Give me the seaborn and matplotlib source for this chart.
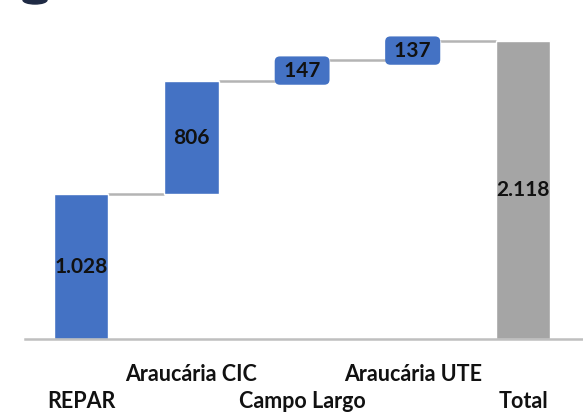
import matplotlib
matplotlib.use('Agg')
import matplotlib.pyplot as plt
import matplotlib.transforms as mtransforms
from matplotlib.patches import Ellipse
import seaborn as sns
import numpy as np
import pandas as pd

# dados do gráfico (waterfall)
categorias = ['REPAR', 'Araucária CIC', 'Campo Largo', 'Araucária UTE', 'Total']
valores = [1028, 806, 147, 137, 2118]
rotulos = ['1.028', '806', '147', '137', '2.118']

azul = '#4472C4'
cinza = '#A5A5A5'
linha = '#B4B4B4'

# base de cada barra: acumulado anterior, total parte do zero
base = list(np.concatenate([[0], np.cumsum(valores[:-2])])) + [0]
topo = [b + v for b, v in zip(base, valores)]

df = pd.DataFrame({'cat': categorias, 'valor': valores, 'base': base})

sns.set_style('white')
plt.rcParams['font.family'] = ['Lato', 'DejaVu Sans']

fig = plt.figure(figsize=(5.83, 4.12), dpi=100)
ax = fig.add_axes([25 / 583, 73 / 412, 558 / 583, 339 / 412])

w = 0.49
sns.barplot(data=df, x='cat', y='valor', color=azul, bottom=df['base'].values,
            width=w, ax=ax, saturation=1, zorder=2)
ax.patches[-1].set_facecolor(cinza)

# linhas de ligação
for i in range(len(valores) - 1):
    ax.plot([i + w / 2, i + 1 - w / 2], [topo[i], topo[i]], color=linha, lw=1.8,
            zorder=1, solid_capstyle='butt')

# rótulos dos valores
for i, (b, v, r) in enumerate(zip(base, valores, rotulos)):
    y = b + v / 2
    if v < 300:
        ax.text(i, y, ' ' + r + ' ', ha='center', va='center', fontsize=15,
                fontweight='bold', color='#111111', zorder=4,
                bbox=dict(boxstyle='round,pad=0.2,rounding_size=0.25', fc=azul, ec='none'))
    else:
        ax.text(i, y, r, ha='center', va='center', fontsize=15,
                fontweight='bold', color='#111111', zorder=4)

ax.set_xlim(-0.506, 4.54)
ax.set_ylim(0, 2409)
ax.set_yticks([])
ax.set_xlabel('')
ax.set_ylabel('')
for s in ['top', 'right', 'left']:
    ax.spines[s].set_visible(False)
ax.spines['bottom'].set_color('#BFBFBF')
ax.spines['bottom'].set_linewidth(1.8)

# rótulos do eixo x alternados (pares descem uma linha)
ax.set_xticks(range(len(categorias)))
ax.set_xticklabels(categorias, fontsize=15.5, fontweight='bold', color='#111111', va='top')
ax.tick_params(axis='x', length=0, pad=18)
desloc = mtransforms.ScaledTranslation(0, -27 / 100, fig.dpi_scale_trans)
for i, lab in enumerate(ax.get_xticklabels()):
    if i % 2 == 0:
        lab.set_transform(lab.get_transform() + desloc)

# marca escura cortada no canto superior
fig.patches.append(Ellipse((35 / 583, 1.0), 24 / 583, 8 / 412, transform=fig.transFigure,
                           color='#1f2a44', zorder=5))

fig.savefig('out.png', dpi=100)
